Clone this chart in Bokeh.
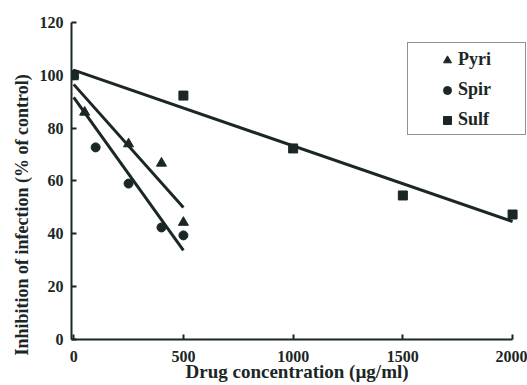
import numpy as np
from bokeh.plotting import figure
from bokeh.models import Range1d, Legend, LegendItem, FixedTicker, Title
from bokeh.embed import file_html
from bokeh.resources import INLINE

# Drug concentration (µg/ml) and inhibition (% of control)
pyri_x = [0, 50, 250, 400, 500]
pyri_y = [100, 86, 74, 66.7, 44.3]
spir_x = [0, 100, 250, 400, 500]
spir_y = [100, 72.7, 59, 42.4, 39.4]
sulf_x = [0, 500, 1000, 1500, 2000]
sulf_y = [100, 92.3, 72.3, 54.5, 47.3]

x_ticks = [0, 500, 1000, 1500, 2000]
y_ticks = [0, 20, 40, 60, 80, 100, 120]

INK = "#1b2626"
FONT = "Liberation Serif"

p = figure(width=527, height=385, output_backend="svg", toolbar_location=None,
           x_range=Range1d(-10, 2068), y_range=Range1d(0, 124.5),
           min_border_left=71, min_border_right=0, min_border_top=10,
           min_border_bottom=46)
p.outline_line_color = None
p.xgrid.visible = False
p.ygrid.visible = False
p.background_fill_color = "white"

for ax, ticks in ((p.xaxis[0], x_ticks), (p.yaxis[0], y_ticks)):
    ax.ticker = FixedTicker(ticks=ticks)
    ax.minor_tick_line_color = None
    ax.major_tick_in = 5
    ax.major_tick_out = 0
    ax.major_tick_line_width = 2
    ax.major_tick_line_color = INK
    ax.axis_line_width = 2
    ax.axis_line_color = INK
    ax.major_label_text_font = FONT
    ax.major_label_text_font_style = "bold"
    ax.major_label_text_font_size = "16px"
    ax.major_label_text_color = INK
p.xaxis.bounds = (-10, 2000)
p.yaxis.bounds = (0, 120)
p.xaxis.major_label_standoff = 11
p.yaxis.major_label_standoff = 8

# axis titles
p.add_layout(Title(text="Inhibition of infection (% of control)", align="left",
                   offset=-16, standoff=10, text_font=FONT, text_font_style="bold",
                   text_font_size="18px", text_color=INK), "left")
p.add_layout(Title(text="Drug concentration (µg/ml)", align="left", offset=114,
                   standoff=-11, text_font=FONT, text_font_style="bold",
                   text_font_size="19px", text_color=INK), "below")


def fit_line(xs, ys):
    k, b = np.polyfit(xs, ys, 1)
    xe = np.array([min(xs), max(xs)], dtype=float)
    return xe, k * xe + b


for xs, ys in ((pyri_x, pyri_y), (spir_x, spir_y), (sulf_x, sulf_y)):
    lx, ly = fit_line(xs, ys)
    p.line(lx, ly, line_color=INK, line_width=3)

r_pyri = p.scatter(pyri_x, pyri_y, marker="triangle", size=10, color=INK)
r_spir = p.scatter(spir_x, spir_y, marker="circle", size=9, color=INK)
r_sulf = p.scatter(sulf_x, sulf_y, marker="square", size=9, color=INK)

# legend frame: a bordered box with a hidden entry, sized to enclose the keys
r_blank = p.scatter([], [], marker="square", alpha=0)
box = Legend(items=[LegendItem(label=" ", renderers=[r_blank])],
             location=(336, 204), padding=0, margin=0,
             glyph_width=1, glyph_height=91, label_height=91,
             label_width=116, label_standoff=0, label_text_alpha=0,
             border_line_color=INK, border_line_width=1.5,
             background_fill_color="white", background_fill_alpha=1.0)
p.add_layout(box)

keys = Legend(items=[LegendItem(label="Pyri", renderers=[r_pyri]),
                     LegendItem(label="Spir", renderers=[r_spir]),
                     LegendItem(label="Sulf", renderers=[r_sulf])],
              location=(366, 209), padding=0, margin=0, spacing=9,
              glyph_width=20, glyph_height=20, label_height=20,
              label_standoff=1,
              label_text_font=FONT, label_text_font_style="bold",
              label_text_font_size="18px", label_text_color=INK,
              border_line_color=None, background_fill_alpha=0)
p.add_layout(keys)

open("out.html", "w").write(file_html(p, INLINE))
